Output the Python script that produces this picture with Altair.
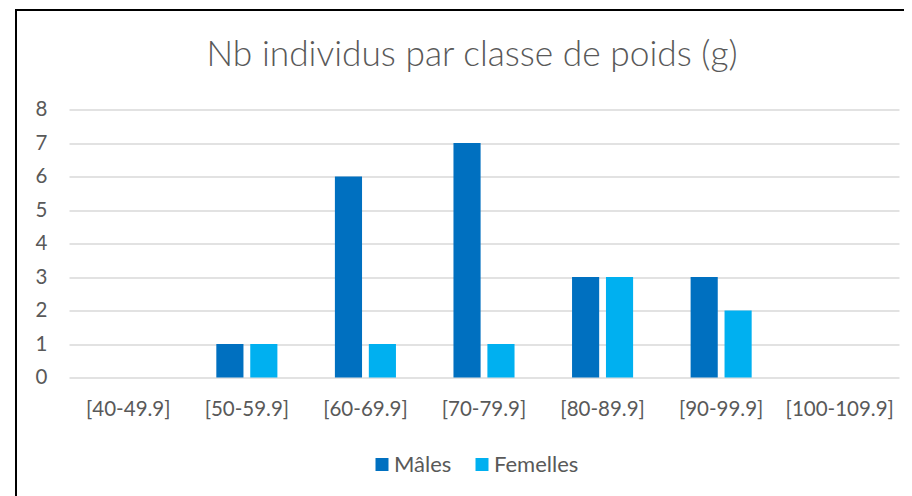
import altair as alt
import pandas as pd

categories = ["[40-49.9]", "[50-59.9]", "[60-69.9]", "[70-79.9]", "[80-89.9]", "[90-99.9]", "[100-109.9]"]
series = ["Mâles", "Femelles"]
males = [0, 1, 6, 7, 3, 3, 0]
femelles = [0, 1, 1, 1, 3, 2, 0]
y_ticks = [0, 1, 2, 3, 4, 5, 6, 7, 8]
colors = ["#0070C0", "#00B0F0"]
title_text = "Nb individus par classe de poids (g)"

rows = []
for c, m, f in zip(categories, males, femelles):
    rows.append({"classe": c, "sexe": series[0], "n": m})
    rows.append({"classe": c, "sexe": series[1], "n": f})
df = pd.DataFrame(rows)

FONT = "Lato"
TXT = "#595959"
W, H = 830, 268

bars = alt.Chart(df).mark_bar().encode(
    x=alt.X("classe:N", sort=categories,
            scale=alt.Scale(paddingInner=0.485, paddingOuter=0.2425),
            axis=alt.Axis(title=None, labelAngle=0, labelFontSize=20.5, labelColor=TXT,
                          labelFont=FONT, ticks=False, tickSize=0, domain=False,
                          labelPadding=22, grid=False)),
    xOffset=alt.XOffset("sexe:N", sort=series, scale=alt.Scale(paddingInner=0.2, paddingOuter=0)),
    y=alt.Y("n:Q", scale=alt.Scale(domain=[0, 8], nice=False),
            axis=alt.Axis(title=None, values=y_ticks, labelFontSize=20.5, labelColor=TXT,
                          labelFont=FONT, ticks=False, tickSize=0, domain=False,
                          labelPadding=22, grid=True, gridColor="#D9D9D9", gridWidth=1.5)),
    color=alt.Color("sexe:N", sort=series,
                    scale=alt.Scale(domain=series, range=colors),
                    legend=alt.Legend(title=None, orient="none", direction="horizontal",
                                      legendX=302, legendY=344, symbolType="square",
                                      symbolSize=169, symbolStrokeWidth=0, symbolOpacity=1,
                                      labelFontSize=22, labelFont=FONT, labelColor=TXT,
                                      labelOffset=1, columnPadding=19, padding=0)),
)

frame = alt.Chart(pd.DataFrame({"a": [0]})).mark_rect(
    fill=None, stroke="black", strokeWidth=2
).encode(
    x=alt.value(-53), x2=alt.value(W + 60),
    y=alt.value(-99.5), y2=alt.value(H + 200),
)

chart = alt.layer(frame, bars).properties(
    width=W, height=H,
    title=alt.TitleParams(title_text, fontSize=35.3, font=FONT, fontWeight=300,
                          color=TXT, anchor="middle", frame="group", baseline="alphabetic",
                          offset=-92, dx=-12),
    autosize=alt.AutoSizeParams(type="none"),
    padding={"left": 61, "top": 101.5, "right": 5, "bottom": 118},
).configure_view(stroke=None)

chart.save("out.html", embed_options={"renderer": "svg", "actions": False})
